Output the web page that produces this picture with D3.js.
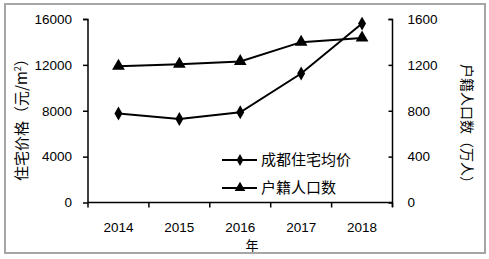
<!DOCTYPE html>
<html><head><meta charset="utf-8">
<script src="https://cdn.jsdelivr.net/npm/d3@7/dist/d3.min.js"></script>
<style>body{margin:0;background:#fff}svg{display:block}</style>
</head><body>
<svg id="c" width="489" height="259"></svg>
<script>
const years = ["2014","2015","2016","2017","2018"];
const priceValues = [7760, 7280, 7870, 11250, 15600];
const popValues = [1189, 1206, 1230, 1398, 1435];
const leftTicks = [0, 4000, 8000, 12000, 16000];
const rightTicks = [0, 400, 800, 1200, 1600];
const seriesNames = ["成都住宅均价", "户籍人口数"];

const svg = d3.select("#c");
const font = "'Liberation Sans', Arial, sans-serif";
svg.append("rect").attr("x",5).attr("y",4).attr("width",480).attr("height",249)
  .attr("fill","#fff").attr("stroke","#a6a6a6").attr("stroke-width",2);

const x = d3.scaleBand().domain(years).range([88, 392.5]);
const yL = d3.scaleLinear().domain([0,16000]).range([202.5,19]);
const yR = d3.scaleLinear().domain([0,1600]).range([202.5,19]);

const gL = svg.append("g").attr("transform","translate(88,0)")
  .call(d3.axisLeft(yL).tickValues(leftTicks).tickSize(5).tickPadding(11).tickFormat(d3.format("d")));
const gR = svg.append("g").attr("transform","translate(392.5,0)")
  .call(d3.axisRight(yR).tickValues(rightTicks).tickSizeInner(-4).tickSizeOuter(0).tickPadding(15).tickFormat(d3.format("d")));
const xTicksScale = d3.scaleLinear().domain([0,5]).range([88,392.5]);
const gX = svg.append("g").attr("transform","translate(0,202.5)");
gX.append("line").attr("x1",88).attr("x2",392.5).attr("stroke","#000").attr("stroke-width",1.5);
gX.selectAll("line.t").data(d3.range(6)).join("line").attr("class","t")
  .attr("x1",d=>xTicksScale(d)).attr("x2",d=>xTicksScale(d)).attr("y1",0).attr("y2",5)
  .attr("stroke","#000").attr("stroke-width",1.5);
gX.selectAll("text").data(years).join("text")
  .attr("x",d=>x(d)+x.bandwidth()/2).attr("y",29).attr("text-anchor","middle")
  .attr("font-family",font).attr("font-size",13.5).attr("fill","#000").text(d=>d);

[gL,gR].forEach(g=>{
  g.select(".domain").attr("stroke","#000").attr("stroke-width",1.5);
  g.selectAll(".tick line").attr("stroke","#000").attr("stroke-width",1.5);
  g.selectAll(".tick text").attr("font-family",font).attr("font-size",13.5).attr("fill","#000");
});
gL.select(".domain").attr("d","M-5,19.5H0V202.5");
gR.select(".domain").attr("d","M-4,19.5H0V207");

const cx = d=>x(d)+x.bandwidth()/2;
const line1 = d3.line().x((d,i)=>cx(years[i])).y(d=>yL(d));
const line2 = d3.line().x((d,i)=>cx(years[i])).y(d=>yR(d));
svg.append("path").attr("d",line1(priceValues)).attr("fill","none").attr("stroke","#000").attr("stroke-width",2);
svg.append("path").attr("d",line2(popValues)).attr("fill","none").attr("stroke","#000").attr("stroke-width",2);

const tri = d3.symbol().type(d3.symbolTriangle).size(70);
svg.selectAll("path.d").data(priceValues).join("path").attr("class","d")
  .attr("transform",(d,i)=>`translate(${cx(years[i])},${yL(d)})`)
  .attr("d", d3.symbol().type(d3.symbolDiamond).size(55)).attr("fill","#000");
svg.selectAll("path.tr").data(popValues).join("path").attr("class","tr")
  .attr("transform",(d,i)=>`translate(${cx(years[i])},${yR(d)})`)
  .attr("d", tri).attr("fill","#000");

const lg = svg.append("g");
const ly = [160, 188];
seriesNames.forEach((n,i)=>{
  lg.append("line").attr("x1",222).attr("x2",257).attr("y1",ly[i]).attr("y2",ly[i]).attr("stroke","#000").attr("stroke-width",2);
  lg.append("path").attr("transform",`translate(240,${ly[i]})`)
    .attr("d", i===0 ? d3.symbol().type(d3.symbolDiamond).size(40)() : d3.symbol().type(d3.symbolTriangle).size(50)())
    .attr("fill","#000");
  lg.append("text").attr("x",261).attr("y",ly[i]).attr("dy","0.36em")
    .attr("font-family","'Noto Sans CJK SC', sans-serif").attr("font-size",15).attr("fill","#000").text(n);
});

svg.append("text").attr("transform","translate(22,116) rotate(-90)").attr("text-anchor","middle").attr("dy","0.36em")
  .attr("font-family","'Noto Sans CJK SC', sans-serif").attr("font-size",15).attr("fill","#000")
  .html("住宅价格（元/m<tspan dy='-6' font-size='9'>2</tspan><tspan dy='6'>）</tspan>");
svg.append("text").attr("transform","translate(467,127) rotate(90)").attr("text-anchor","middle").attr("dy","0.36em")
  .attr("font-family","'Noto Sans CJK SC', sans-serif").attr("font-size",14).attr("fill","#000")
  .text("户籍人口数（万人）");
svg.append("text").attr("x",252).attr("y",245).attr("text-anchor","middle").attr("dy","0.36em")
  .attr("font-family","'Noto Sans CJK SC', sans-serif").attr("font-size",13).attr("fill","#000").text("年");
</script>
</body></html>
